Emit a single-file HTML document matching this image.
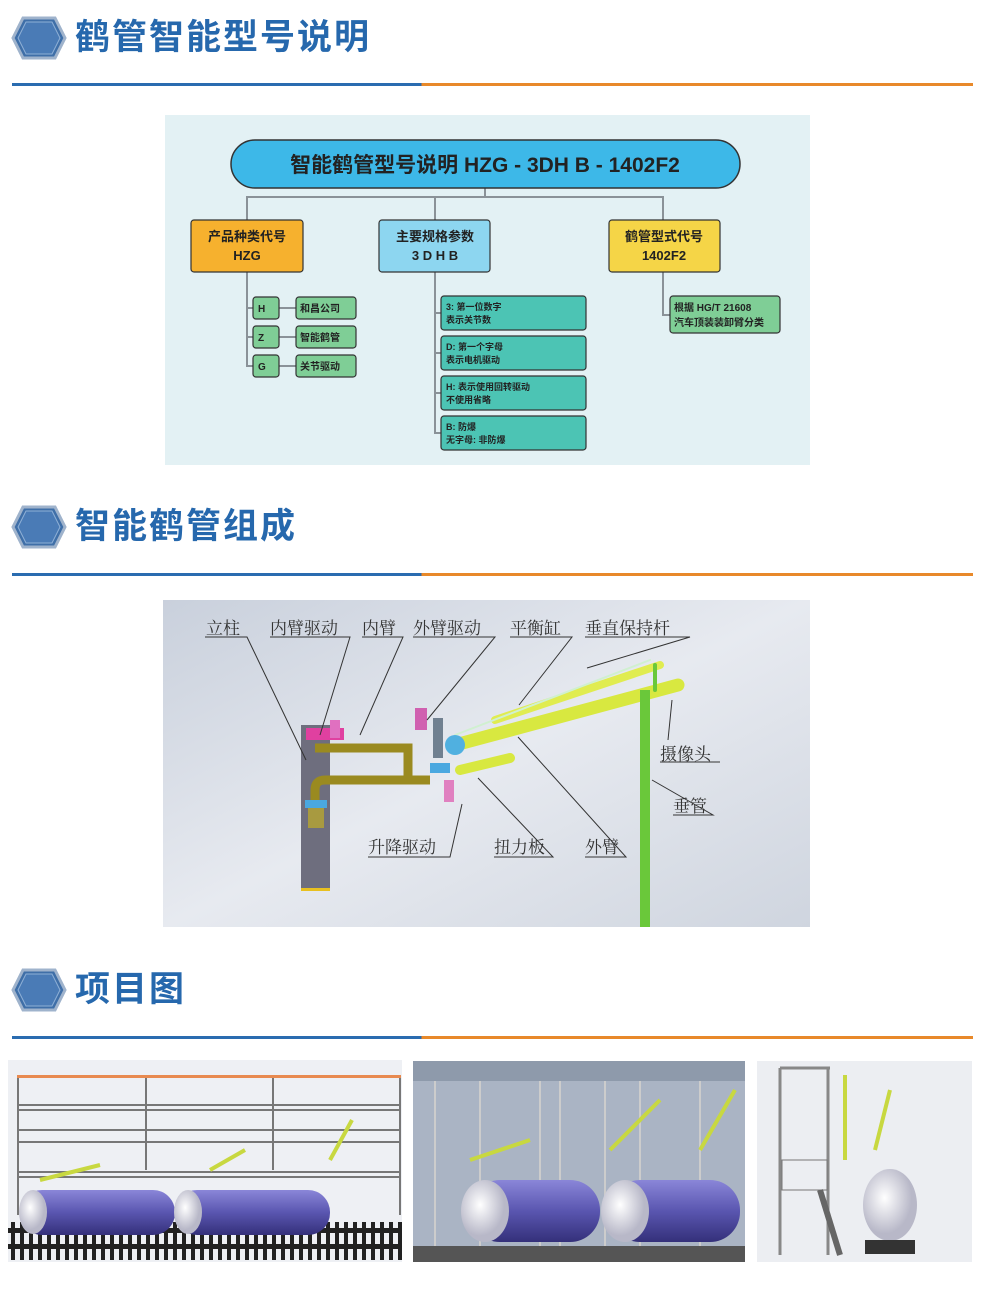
<!DOCTYPE html>
<html><head><meta charset="utf-8"><style>
body{margin:0;width:992px;height:1293px;background:#fff;position:relative;overflow:hidden;font-family:"Liberation Sans","Noto Sans CJK SC",sans-serif}
.t{position:absolute;left:75px;font-size:35px;font-weight:bold;color:#2668ad;letter-spacing:2px;line-height:40px}
.ln{position:absolute;left:12px;width:961px;height:3px;background:linear-gradient(90deg,#2a6cb0 0,#2a6cb0 42.6%,#e8892a 42.6%)}
svg{position:absolute;left:0;top:0}
</style></head><body>
<svg width="992" height="1293" viewBox="0 0 992 1293" font-family="Liberation Sans,Noto Sans CJK SC,sans-serif">
<defs>
<g id="hex"><polygon points="-16,-20 16,-20 26,0 16,20 -16,20 -26,0" fill="#3f6fa8" stroke="#9fb3cc" stroke-width="3"/><polygon points="-13,-16 13,-16 21,0 13,16 -13,16 -21,0" fill="#4a7bb6" stroke="#8fb0d6" stroke-width="1"/></g>
<linearGradient id="g2" x1="0" y1="0" x2="1" y2="1"><stop offset="0" stop-color="#c9d0dc"/><stop offset=".5" stop-color="#e7eaf0"/><stop offset="1" stop-color="#cfd5df"/></linearGradient>
<linearGradient id="tank" x1="0" y1="0" x2="0" y2="1"><stop offset="0" stop-color="#8a86d8"/><stop offset=".5" stop-color="#5a56b0"/><stop offset="1" stop-color="#34307a"/></linearGradient>
<radialGradient id="end" cx=".4" cy=".4"><stop offset="0" stop-color="#fff"/><stop offset="1" stop-color="#b8b8c8"/></radialGradient>
<pattern id="ties" width="9" height="30" patternUnits="userSpaceOnUse"><rect x="2" y="0" width="4" height="30" fill="#222"/></pattern>
</defs>
<use href="#hex" x="39" y="38"/><use href="#hex" x="39" y="527"/><use href="#hex" x="39" y="990"/>

<rect x="165" y="115" width="645" height="350" fill="#e3f1f4"/>
<g stroke="#8a9298" stroke-width="2" fill="none">
<path d="M485 188V197M247 220V197H663V220M435 197V220"/>
<path d="M247 272V366H253M247 308H253M247 337H253M279 308H296M279 337H296M279 366H296"/>
<path d="M435 272V433H441M435 313H441M435 353H441M435 393H441"/>
<path d="M663 272V315H670"/>
</g>
<rect x="231" y="140" width="509" height="48" rx="24" fill="#3db8e8" stroke="#333" stroke-width="1.5"/>
<text x="485" y="172" font-size="21" font-weight="bold" text-anchor="middle" fill="#222">智能鹤管型号说明  HZG - 3DH B - 1402F2</text>
<g stroke="#333" stroke-width="1.2">
<rect x="191" y="220" width="112" height="52" rx="3" fill="#f6b12e"/>
<rect x="379" y="220" width="111" height="52" rx="3" fill="#8dd6f0"/>
<rect x="609" y="220" width="111" height="52" rx="3" fill="#f5d547"/>
</g>
<g font-size="13" font-weight="bold" text-anchor="middle" fill="#222">
<text x="247" y="241">产品种类代号</text><text x="247" y="260">HZG</text>
<text x="435" y="241">主要规格参数</text><text x="435" y="260">3 D H B</text>
<text x="664" y="241">鹤管型式代号</text><text x="664" y="260">1402F2</text>
</g>
<g stroke="#333" stroke-width="1.2" fill="#7fce96">
<rect x="253" y="297" width="26" height="22" rx="3"/><rect x="296" y="297" width="60" height="22" rx="3"/>
<rect x="253" y="326" width="26" height="22" rx="3"/><rect x="296" y="326" width="60" height="22" rx="3"/>
<rect x="253" y="355" width="26" height="22" rx="3"/><rect x="296" y="355" width="60" height="22" rx="3"/>
<rect x="670" y="296" width="110" height="37" rx="3"/>
</g>
<g stroke="#333" stroke-width="1.2" fill="#4cc4b4">
<rect x="441" y="296" width="145" height="34" rx="3"/><rect x="441" y="336" width="145" height="34" rx="3"/>
<rect x="441" y="376" width="145" height="34" rx="3"/><rect x="441" y="416" width="145" height="34" rx="3"/>
</g>
<g font-size="10" font-weight="bold" fill="#222">
<text x="258" y="312">H</text><text x="300" y="312">和昌公司</text>
<text x="258" y="341">Z</text><text x="300" y="341">智能鹤管</text>
<text x="258" y="370">G</text><text x="300" y="370">关节驱动</text>
<text x="674" y="311">根据 HG/T 21608</text><text x="674" y="326">汽车顶装装卸臂分类</text>
<text font-size="9" x="446" y="310">3: 第一位数字</text><text font-size="9" x="446" y="323">表示关节数</text>
<text font-size="9" x="446" y="350">D: 第一个字母</text><text font-size="9" x="446" y="363">表示电机驱动</text>
<text font-size="9" x="446" y="390">H: 表示使用回转驱动</text><text font-size="9" x="446" y="403">不使用省略</text>
<text font-size="9" x="446" y="430">B: 防爆</text><text font-size="9" x="446" y="443">无字母: 非防爆</text>
</g>

<rect x="163" y="600" width="647" height="327" fill="url(#g2)"/>
<rect x="301" y="725" width="29" height="165" fill="#6e6e7e"/>
<rect x="301" y="888" width="29" height="3" fill="#e8c020"/>
<g fill="none" stroke="#9a8a20" stroke-width="9">
<path d="M315 800V790Q315 780 325 780H430"/><path d="M315 748H408V780"/>
</g>
<rect x="305" y="800" width="22" height="8" fill="#4aa8e0"/><rect x="308" y="808" width="16" height="20" fill="#a89a40"/>
<rect x="306" y="728" width="38" height="12" fill="#e040a0"/><rect x="330" y="720" width="10" height="18" fill="#e070c0"/>
<rect x="415" y="708" width="12" height="22" fill="#d060b0"/><rect x="433" y="718" width="10" height="40" fill="#708090"/>
<rect x="430" y="763" width="20" height="10" fill="#4aa8e0"/><rect x="444" y="780" width="10" height="22" fill="#e080c0"/>
<g fill="none" stroke-linecap="round">
<path d="M455 745L678 685" stroke="#d8e840" stroke-width="13"/>
<path d="M460 770L510 758" stroke="#d8e840" stroke-width="10"/>
<path d="M495 720L660 665" stroke="#e0ec50" stroke-width="8"/>
<path d="M455 735L650 660" stroke="#d0f0d0" stroke-width="2"/>
<path d="M655 665V690" stroke="#6ac83a" stroke-width="4"/>
</g>
<rect x="640" y="690" width="10" height="237" fill="#6ac83a"/>
<circle cx="455" cy="745" r="10" fill="#50b0e0"/>
<g fill="none" stroke="#333" stroke-width="1">
<path d="M205 637H247L306 760M270 637H350L320 735M362 637H403L360 735M413 637H495L427 720M510 637H572L519 705M585 637H690L587 668M660 762H720M672 700L668 740M673 815H713L652 780M368 857H450L462 804M494 857H553L478 778M585 857H626L518 737"/>
</g>
<g font-family="Liberation Serif,Noto Serif CJK SC,serif" font-size="17" fill="#333">
<text x="206" y="634">立柱</text><text x="270" y="634">内臂驱动</text><text x="362" y="634">内臂</text><text x="413" y="634">外臂驱动</text><text x="510" y="634">平衡缸</text><text x="585" y="634">垂直保持杆</text>
<text x="660" y="760">摄像头</text><text x="673" y="812">垂管</text>
<text x="368" y="853">升降驱动</text><text x="494" y="853">扭力板</text><text x="585" y="853">外臂</text>
</g>

<rect x="8" y="1060" width="394" height="202" fill="#eef0f4"/>
<rect x="17" y="1075" width="384" height="3" fill="#e88a50"/>
<g stroke="#777" stroke-width="2" fill="none">
<path d="M18 1078V1215M146 1078V1170M273 1078V1170M400 1078V1215M18 1105H400M18 1110H400M18 1130H400M18 1142H400M18 1172H400M18 1177H400"/>
</g>
<rect x="8" y="1222" width="394" height="38" fill="url(#ties)"/>
<rect x="8" y="1228" width="394" height="5" fill="#222"/>
<rect x="8" y="1244" width="394" height="5" fill="#222"/>
<rect x="20" y="1190" width="155" height="45" rx="22" fill="url(#tank)"/>
<rect x="175" y="1190" width="155" height="45" rx="22" fill="url(#tank)"/>
<ellipse cx="33" cy="1212" rx="14" ry="22" fill="url(#end)"/><ellipse cx="188" cy="1212" rx="14" ry="22" fill="url(#end)"/>
<path d="M40 1180L100 1165M210 1170L245 1150M330 1160L352 1120" stroke="#c8d840" stroke-width="4"/>

<rect x="413" y="1061" width="332" height="201" fill="#aab4c4"/>
<rect x="413" y="1061" width="332" height="20" fill="#8e9aab"/>
<g stroke="#ccc" stroke-width="2"><path d="M435 1081V1250M480 1081V1250M540 1081V1250M560 1081V1250M605 1081V1250M640 1081V1250M700 1081V1250"/></g>
<rect x="413" y="1246" width="332" height="16" fill="#555"/>
<rect x="470" y="1180" width="130" height="62" rx="30" fill="url(#tank)"/>
<rect x="610" y="1180" width="130" height="62" rx="30" fill="url(#tank)"/>
<ellipse cx="485" cy="1211" rx="24" ry="31" fill="url(#end)"/><ellipse cx="625" cy="1211" rx="24" ry="31" fill="url(#end)"/>
<path d="M470 1160L530 1140M610 1150L660 1100M700 1150L735 1090" stroke="#c8d840" stroke-width="4"/>

<rect x="757" y="1061" width="215" height="201" fill="#eceef2"/>
<path d="M780 1068V1255M828 1068V1255M780 1068H830" stroke="#888" stroke-width="3" fill="none"/>
<rect x="782" y="1160" width="45" height="30" fill="none" stroke="#777"/>
<path d="M820 1190L840 1255" stroke="#666" stroke-width="6"/>
<ellipse cx="890" cy="1205" rx="27" ry="36" fill="url(#end)"/>
<rect x="865" y="1240" width="50" height="14" fill="#333"/>
<path d="M845 1160V1075M875 1150L890 1090" stroke="#c8d840" stroke-width="4"/>
</svg>
<div class="t" style="top:18px">鹤管智能型号说明</div>
<div class="ln" style="top:83px"></div>
<div class="t" style="top:507px">智能鹤管组成</div>
<div class="ln" style="top:573px"></div>
<div class="t" style="top:970px">项目图</div>
<div class="ln" style="top:1036px"></div>
</body></html>
